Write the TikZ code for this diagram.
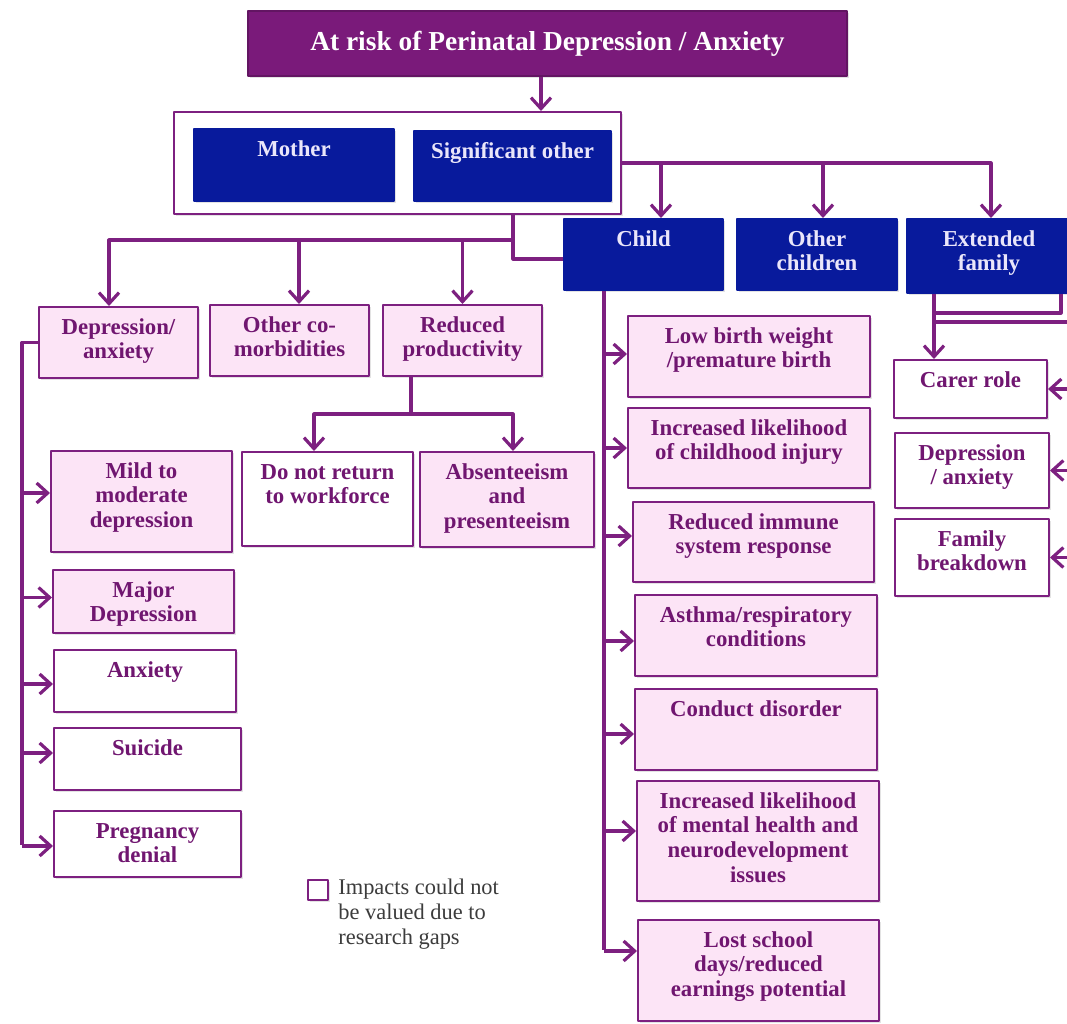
\documentclass[tikz,border=0pt]{standalone}
\usepackage{fontspec}
\setmainfont{Liberation Serif}
\usetikzlibrary{arrows.meta,shadows}

\definecolor{plum}{RGB}{122,26,122}
\definecolor{linecol}{RGB}{125,32,128}
\definecolor{navy}{RGB}{8,26,156}
\definecolor{blush}{RGB}{252,228,246}
\definecolor{inktxt}{RGB}{112,22,112}
\definecolor{lilac}{RGB}{234,230,250}
\definecolor{legtxt}{RGB}{60,60,60}

% name, x, y, width, height (px), style, text
\newcommand{\impactbox}[7]{%
  \node[#6, anchor=north west] (#1) at (#2,#3)
    {\parbox[t][\dimexpr #5pt/2-10pt\relax][t]{\dimexpr #4pt/2-4pt\relax}{\centering\strut #7}};}

\tikzset{
  base/.style={draw=linecol, line width=1pt, inner xsep=2pt, inner ysep=5pt,
    font=\bfseries\fontsize{11.4}{12.3}\selectfont,
    drop shadow={opacity=.22, shadow xshift=1pt, shadow yshift=-1pt}},
  pinkbox/.style={base, fill=blush, text=inktxt},
  whitebox/.style={base, fill=white, text=inktxt},
  bluebox/.style={base, draw=navy, fill=navy, text=lilac},
  titlebox/.style={base, draw=plum!80!black, fill=plum, text=white,
    font=\bfseries\fontsize{13.7}{15}\selectfont},
  wire/.style={draw=linecol, line width=1.6pt},
  link/.style={wire, -{Straight Barb[length=5.5pt,width=10pt]}},
}

\begin{document}
\begin{tikzpicture}[x=0.5pt,y=-0.5pt,line join=round]
\fill[white] (0,0) rectangle (1067,1024);
\useasboundingbox (0,0) rectangle (1067,1024);

% top of the tree
\node[titlebox, anchor=north west, minimum width=299.5pt, minimum height=32.5pt]
  (title) at (247,10) {At risk of Perinatal Depression / Anxiety};
\node[base, fill=white, anchor=north west, minimum width=223.5pt, minimum height=51pt,
  inner sep=0pt] (group) at (173,111) {};
\impactbox{mother}{193}{128}{200}{72}{bluebox}{Mother}
\impactbox{sigother}{413}{130}{197}{70}{bluebox}{Significant other}
\impactbox{child}{563}{218}{159}{71}{bluebox}{Child}
\impactbox{others}{736}{218}{160}{71}{bluebox}{Other\\children}
\impactbox{extended}{906}{218}{164}{74}{bluebox}{Extended\\family}

% mother / significant other
\impactbox{depanx}{38}{306}{159}{71}{pinkbox}{Depression/\\anxiety}
\impactbox{comorb}{209}{304}{159}{71}{pinkbox}{Other co-\\morbidities}
\impactbox{reduced}{382}{304}{159}{71}{pinkbox}{Reduced\\productivity}
\impactbox{mild}{50}{450}{181}{101}{pinkbox}{Mild to\\moderate\\depression}
\impactbox{major}{52}{569}{181}{63}{pinkbox}{Major\\Depression}
\impactbox{anxiety}{53}{649}{182}{62}{whitebox}{Anxiety}
\impactbox{suicide}{53}{727}{187}{62}{whitebox}{Suicide}
\impactbox{denial}{53}{810}{187}{66}{whitebox}{Pregnancy\\denial}
\impactbox{noreturn}{241}{451}{171}{94}{whitebox}{Do not return\\to workforce}
\impactbox{absent}{419}{451}{174}{95}{pinkbox}{Absenteeism\\and\\presenteeism}

% child
\impactbox{lowbirth}{627}{315}{242}{81}{pinkbox}{Low birth weight\\/premature birth}
\impactbox{injury}{627}{407}{242}{80}{pinkbox}{Increased likelihood\\of childhood injury}
\impactbox{immune}{632}{501}{241}{80}{pinkbox}{Reduced immune\\system response}
\impactbox{asthma}{634}{594}{242}{81}{pinkbox}{Asthma/respiratory\\conditions}
\impactbox{conduct}{634}{688}{242}{81}{pinkbox}{Conduct disorder}
\impactbox{mental}{636}{780}{242}{120}{pinkbox}{Increased likelihood\\of mental health and\\neurodevelopment\\issues}
\impactbox{school}{637}{919}{241}{101}{pinkbox}{Lost school\\days/reduced\\earnings potential}

% extended family
\impactbox{carer}{893}{359}{153}{58}{whitebox}{Carer role}
\impactbox{famdep}{894}{432}{154}{75}{whitebox}{Depression\\/ anxiety}
\impactbox{breakdown}{894}{518}{154}{77}{whitebox}{Family\\breakdown}

% legend
\node[base, fill=white, minimum size=10pt, inner sep=0pt] (legsq) at (318,890) {};
\node[anchor=north west, align=left, inner sep=0pt, text=legtxt,
  font=\fontsize{11.2}{12.5}\selectfont] (legnote) at (338,879)
  {Impacts could not\\be valued due to\\research gaps};

% connectors
\coordinate (tA) at ([xshift=-3.25pt]title.south);
\draw[link] (tA) -- (tA |- group.north);

\coordinate (cF) at ([xshift=8.75pt]child.north);
\coordinate (oF) at ([xshift=3pt]others.north);
\coordinate (eF) at ([xshift=1pt]extended.north);
\draw[link] (group.east) -| (eF);
\draw[link] (cF |- group.east) -- (cF);
\draw[link] (oF |- group.east) -- (oF);

\coordinate (gS) at ([xshift=57.75pt]group.south);
\draw[wire] (gS) |- ([yshift=-2.25pt]child.west);
\coordinate (dF) at ([xshift=-4.75pt]depanx.north);
\coordinate (mF) at ([xshift=4.75pt]comorb.north);
\draw[link] (gS |- 0,240) -| (dF);
\draw[link] (mF |- 0,240) -- (mF);
\draw[link] (reduced.north |- 0,240) -- (reduced.north);

\coordinate (spL) at ([xshift=-8pt]depanx.west);
\draw[wire] (depanx.west) -- (spL) -- (spL |- 0,845);
\foreach \n/\dy in {mild/4.25, major/2, anxiety/-1.5, suicide/3, denial/-1}{
  \path ([yshift=\dy pt]\n.west) coordinate (tip);
  \draw[link] (tip -| spL) -- (tip);
}

\coordinate (rS) at ([xshift=-25.75pt]reduced.south);
\coordinate (nF) at ([xshift=-6.75pt]noreturn.north);
\coordinate (aF) at ([xshift=3pt]absent.north);
\draw[wire] (rS) -- (rS |- 0,414);
\draw[link] (rS |- 0,414) -| (nF);
\draw[link] (rS |- 0,414) -| (aF);

\coordinate (cS) at ([xshift=-19.75pt]child.south);
\draw[wire] (cS) -- (cS |- 0,950);
\foreach \n/\dy in {lowbirth/1.25, injury/0, immune/3, asthma/-2.75, conduct/-2.25, mental/5, school/9.75}{
  \path ([yshift=\dy pt]\n.west) coordinate (tip);
  \draw[link] (tip -| cS) -- (tip);
}

\coordinate (eA) at ([xshift=36pt]extended.south);
\coordinate (eB) at ([xshift=-27.5pt]extended.south);
\draw[link] (eB) -- (eB |- carer.north);
\draw[wire] (eA) |- (eB |- 0,313);
\draw[wire] (eB |- 0,322) -- (1080,322) coordinate (eR) -- (eR |- breakdown.east);
\foreach \n in {carer,famdep,breakdown}
  \draw[link] (eR |- \n.east) -- (\n.east);
\end{tikzpicture}
\end{document}
